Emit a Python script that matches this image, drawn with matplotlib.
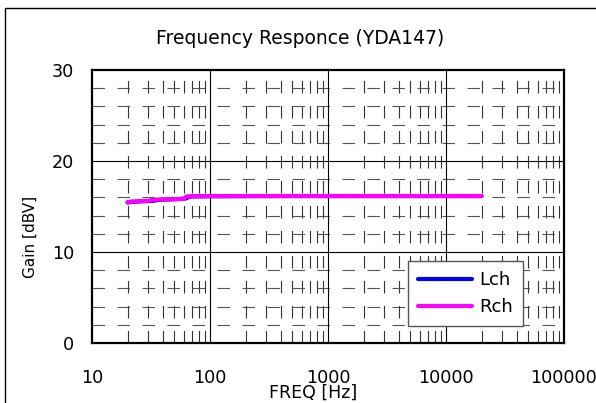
import numpy as np
import matplotlib
matplotlib.use("Agg")
import matplotlib.pyplot as plt
from matplotlib.patches import Rectangle

plt.rcParams['font.family'] = ['DejaVu Sans']
plt.rcParams['lines.scale_dashes'] = False

freq = [20, 22, 25, 30, 33, 36, 40, 50, 60, 63, 66, 70, 80, 100, 200, 500,
        1000, 2000, 5000, 10000, 20000]
lch = [15.45, 15.5, 15.56, 15.6, 15.62, 15.72, 15.75, 15.8, 15.85, 15.9,
       16.05, 16.1, 16.12, 16.13, 16.14, 16.15, 16.15, 16.15, 16.15, 16.15, 16.15]
rch = [15.45, 15.55, 15.58, 15.62, 15.75, 15.76, 15.78, 15.8, 15.85, 16.1,
       16.12, 16.12, 16.13, 16.14, 16.15, 16.15, 16.15, 16.15, 16.15, 16.15, 16.15]

x_ticks = [10, 100, 1000, 10000, 100000]
x_labels = ["10", "100", "1000", "10000", "100000"]
y_ticks = [0, 10, 20, 30]

W, H = 596, 403
fig = plt.figure(figsize=(W / 100, H / 100), dpi=100)
ax = fig.add_axes([92 / W, 1 - 343 / H, (564 - 92) / W, (343 - 70) / H])

# outer chart border (runs off the right/bottom edge)
fig.patches.append(Rectangle((5 / W, -0.1), 1.2, 1 - 8 / H + 0.1,
                             transform=fig.transFigure, fill=False,
                             edgecolor="black", linewidth=1.0))

ax.set_xscale("log")
ax.set_xlim(10, 100000)
ax.set_ylim(0, 30)

# minor dashed grid, major solid grid
dash = (0, (9, 9))
for dec in [10, 100, 1000, 10000]:
    for k in range(2, 10):
        ax.axvline(dec * k, color="#333333", lw=0.8, ls=dash, zorder=1)
for yv in range(2, 30, 2):
    if yv % 10:
        ax.axhline(yv, color="#555555", lw=0.8, ls=dash, zorder=1)
for xv in x_ticks[1:-1]:
    ax.axvline(xv, color="black", lw=0.8, zorder=1)
for yv in y_ticks[1:-1]:
    ax.axhline(yv, color="black", lw=0.8, zorder=1)

ax.plot(freq, lch, color="#0000ff", lw=3, label="Lch", zorder=3,
        solid_capstyle="round")
ax.plot(freq, rch, color="#ff00ff", lw=3, label="Rch", zorder=4,
        solid_capstyle="round")

ax.set_xticks(x_ticks)
ax.set_xticklabels(x_labels)
ax.xaxis.set_minor_locator(matplotlib.ticker.NullLocator())
ax.set_yticks(y_ticks)
ax.tick_params(axis="both", length=0, labelsize=12.7)
ax.tick_params(axis="x", pad=19)
ax.tick_params(axis="y", pad=13)
for t in ax.get_xticklabels():
    t.set_clip_on(False)
for s in ax.spines.values():
    s.set_linewidth(1.6)

fig.text(300 / W, 1 - 38 / H, "Frequency Responce (YDA147)", ha="center",
         va="center", fontsize=13.5)
fig.text(30 / W, 1 - 237 / H, "Gain [dBV]", ha="center", va="center",
         rotation=90, fontsize=11)
fig.text(313 / W, 1 - 393 / H, "FREQ [Hz]", ha="center", va="center",
         fontsize=12.5)

leg = ax.legend(loc="upper left", bbox_to_anchor=((408 - 92) / 472, (343 - 261) / 273),
                borderaxespad=0, fancybox=False, fontsize=13, handlelength=3.0,
                labelspacing=0.5, handletextpad=0.4, borderpad=0.55,
                framealpha=1, edgecolor="#555555")
leg.get_frame().set_linewidth(1.0)
leg.set_zorder(10)

fig.savefig("out.png", dpi=100)
